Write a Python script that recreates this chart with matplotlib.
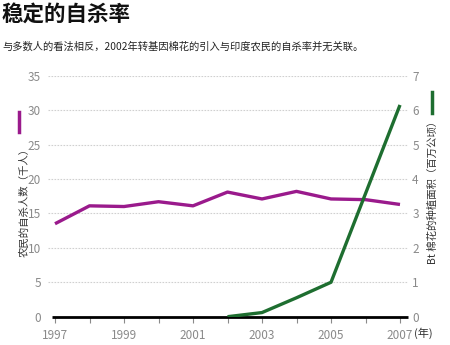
import matplotlib
matplotlib.use("Agg")
import matplotlib.pyplot as plt

plt.rcParams['font.family'] = ['Noto Sans CJK SC', 'DejaVu Sans']

years = [1997, 1998, 1999, 2000, 2001, 2002, 2003, 2004, 2005, 2006, 2007]
suicides = [13.5, 16.1, 16.0, 16.7, 16.1, 18.1, 17.1, 18.2, 17.1, 17.0, 16.3]
bt_years = [2002, 2003, 2004, 2005, 2007]
bt_area = [0.0, 0.12, 0.55, 1.0, 6.15]
left_ticks = [0, 5, 10, 15, 20, 25, 30, 35]
right_ticks = [0, 1, 2, 3, 4, 5, 6, 7]
label_years = [1997, 1999, 2001, 2003, 2005, 2007]

purple = '#9A1A8C'
green = '#1E6E30'
gray = '#8a8a8a'

W, H = 450, 345
fig = plt.figure(figsize=(4.5, 3.45), dpi=100)
ax = fig.add_axes([48 / W, (H - 316.7) / H, (408 - 48) / W, (316.7 - 75.7) / H])
ax2 = ax.twinx()

x0 = 1997 - 7 / 34.5
x1 = 2007 + 8 / 34.5
ax.set_xlim(x0, x1)
ax.set_ylim(0, 35)
ax2.set_ylim(0, 7)

for a in (ax, ax2):
    for s in a.spines.values():
        s.set_visible(False)

for t in left_ticks[1:]:
    ax.axhline(t, color='#d0d0d0', lw=0.8, ls=(0, (1.5, 1.2)), zorder=0)

ax.plot(years, suicides, color=purple, lw=2.4, solid_capstyle='butt', zorder=3)
ax2.plot(bt_years, bt_area, color=green, lw=2.4, solid_capstyle='butt', zorder=3)
ax.hlines(0, 1997 - 3 / 34.5, x1, color='black', lw=2.0, zorder=4, clip_on=False)

ax.set_xticks(years)
ax.set_xticklabels([str(y) if y in label_years else '' for y in years])
ax.tick_params(axis='x', direction='out', length=4, width=0.8, color=gray,
               labelcolor=gray, labelsize=8.5, pad=4.5)
ax.set_yticks(left_ticks)
ax.tick_params(axis='y', length=0, labelcolor=gray, labelsize=8.5, pad=5)
ax2.set_yticks(right_ticks)
ax2.tick_params(axis='y', length=0, labelcolor=gray, labelsize=8.5, pad=3)

fig.text(2 / W, 1 - 14 / H, '稳定的自杀率', fontsize=15.5, fontweight='bold',
         va='center', ha='left', color='#111111')
fig.text(2 / W, 1 - 47 / H, '与多数人的看法相反，2002年转基因棉花的引入与印度农民的自杀率并无关联。',
         fontsize=7.4, va='center', ha='left', color='#222222')

fig.text(24 / W, 1 - 200 / H, '农民的自杀人数（千人）', rotation=90, fontsize=7.5,
         va='center', ha='center', color='#333333')
fig.text(433 / W, 1 - 190 / H, 'Bt 棉花的种植面积（百万公顷）', rotation=90, fontsize=7.5,
         va='center', ha='center', color='#333333')
fig.text(414 / W, 1 - 333 / H, '(年)', fontsize=8, va='center', ha='left', color='#333333')

fig.add_artist(plt.Line2D([19 / W, 19 / W], [1 - 112 / H, 1 - 132 / H], color=purple, lw=2.5))
fig.add_artist(plt.Line2D([432 / W, 432 / W], [1 - 92 / H, 1 - 113 / H], color=green, lw=2.5))

fig.savefig('out.png', dpi=100)
